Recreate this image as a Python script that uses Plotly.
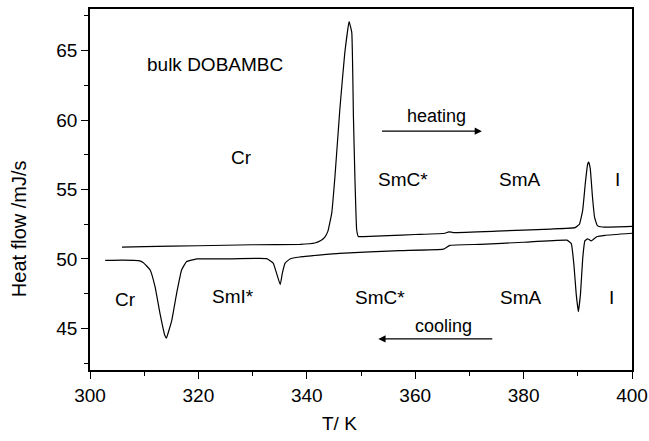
import plotly.graph_objects as go

# DSC traces of bulk DOBAMBC: temperature (K) and heat flow (mJ/s)
heat_T = [305.9, 310.0, 320.0, 330.0, 338.75, 341.5, 342.6, 343.3, 343.9, 344.6, 345.2,
          346.1, 347.0, 347.8, 348.3, 348.6, 348.9, 349.2, 349.5, 350.5, 355.0,
          360.0, 365.5, 366.2, 367.0, 375.0, 385.0, 389.5, 390.3, 390.9, 391.4,
          391.8, 392.0, 392.3, 392.7, 393.1, 393.6, 394.5, 400.0]
heat_HF = [50.85, 50.88, 50.95, 51.02, 51.05, 51.15, 51.32, 51.55, 52.0, 53.3, 55.95,
           60.8, 64.8, 67.1, 66.3, 60.3, 55.5, 52.1, 51.62, 51.6, 51.68,
           51.76, 51.85, 51.95, 51.9, 52.0, 52.15, 52.25, 52.5, 53.5, 55.5,
           56.8, 57.0, 56.5, 54.5, 53.0, 52.4, 52.3, 52.35]

cool_T = [302.8, 306.0, 309.0, 309.8, 311.1, 312.0, 312.9, 313.8, 314.1, 315.1,
          316.0, 316.9, 317.8, 319.7, 325.0, 332.6, 333.8, 334.4, 335.1, 335.5,
          336.0, 336.9, 338.7, 346.0, 357.2, 365.2, 366.4, 372.0, 380.0, 388.0,
          388.8, 389.3, 389.7, 390.1, 390.5, 390.9, 391.3, 391.8, 392.5, 393.5,
          395.0, 400.0]
cool_HF = [49.9, 49.92, 49.88, 49.75, 49.2, 48.0, 46.1, 44.5, 44.3, 45.6,
           47.55, 49.2, 49.8, 50.0, 50.0, 50.02, 49.7, 49.0, 48.15, 49.0,
           49.7, 50.0, 50.14, 50.4, 50.6, 50.7, 50.98, 51.05, 51.2, 51.35,
           51.1, 49.5, 47.5, 46.2, 47.5, 50.0, 51.3, 51.45, 51.3, 51.6,
           51.7, 51.85]

# phase labels: (text, T, heat flow)
upper_labels = [("Cr", 327.9, 57.3), ("SmC*", 357.8, 55.7), ("SmA", 379.3, 55.7), ("I", 397.3, 55.7)]
lower_labels = [("Cr", 306.6, 47.1), ("SmI*", 326.3, 47.3), ("SmC*", 353.5, 47.2),
                ("SmA", 379.6, 47.2), ("I", 396.2, 47.2)]

FONT = "Liberation Sans, Arial, sans-serif"
SIZE = 19

fig = go.Figure()
for T, HF in ((heat_T, heat_HF), (cool_T, cool_HF)):
    fig.add_trace(go.Scatter(x=T, y=HF, mode="lines",
                             line=dict(color="black", width=1.2, shape="spline", smoothing=0.3),
                             showlegend=False, hoverinfo="skip"))

annotations = []
for text, x, y in upper_labels + lower_labels:
    annotations.append(dict(x=x, y=y, text=text, showarrow=False, xanchor="center", yanchor="middle",
                            font=dict(family=FONT, size=SIZE, color="black")))

annotations += [
    dict(x=323.1, y=64.0, text="bulk DOBAMBC", showarrow=False, xanchor="center", yanchor="middle",
         font=dict(family=FONT, size=SIZE, color="black")),
    dict(x=364.0, y=60.3, text="heating", showarrow=False, xanchor="center", yanchor="middle",
         font=dict(family=FONT, size=18, color="black")),
    dict(x=365.3, y=45.15, text="cooling", showarrow=False, xanchor="center", yanchor="middle",
         font=dict(family=FONT, size=18, color="black")),
    # direction arrows
    dict(x=372.3, y=59.2, ax=353.6, ay=59.2, xref="x", yref="y", axref="x", ayref="y",
         text="", showarrow=True, arrowhead=2, arrowsize=1.2, arrowwidth=1.2, arrowcolor="black"),
    dict(x=353.2, y=44.24, ax=374.5, ay=44.24, xref="x", yref="y", axref="x", ayref="y",
         text="", showarrow=True, arrowhead=2, arrowsize=1.2, arrowwidth=1.2, arrowcolor="black"),
    # axis titles
    dict(x=0.461, y=-0.147, xref="paper", yref="paper", text="T/ K", showarrow=False,
         xanchor="center", yanchor="middle",
         font=dict(family=FONT, size=SIZE, color="black")),
    dict(x=-0.131, y=0.393, xref="paper", yref="paper", text="Heat flow /mJ/s", showarrow=False,
         xanchor="center", yanchor="middle", textangle=-90,
         font=dict(family=FONT, size=20, color="black")),
]

axis_common = dict(showgrid=False, zeroline=False, showline=True, linecolor="black",
                   linewidth=1.5, mirror=True, ticks="outside", ticklen=7, tickwidth=1.2,
                   automargin=False,
                   tickcolor="black", tickfont=dict(family=FONT, size=SIZE, color="black"))

fig.update_xaxes(range=[300, 400], tick0=300, dtick=20,
                 minor=dict(ticks="outside", ticklen=4, dtick=10, tickcolor="black", tickwidth=1),
                 **axis_common)
fig.update_yaxes(range=[42, 68], tick0=45, dtick=5,
                 minor=dict(ticks="outside", ticklen=4, dtick=2.5, tickcolor="black", tickwidth=1),
                 **axis_common)

fig.update_layout(width=649, height=441, margin=dict(l=90, r=17, t=9, b=71),
                  paper_bgcolor="white", plot_bgcolor="white", annotations=annotations)

fig.write_html("out.html")
